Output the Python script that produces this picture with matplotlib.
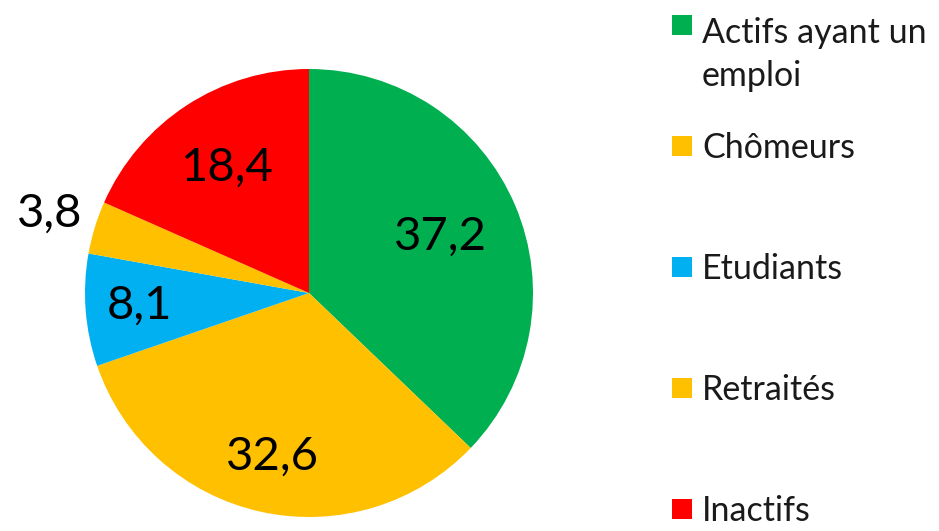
import matplotlib
matplotlib.use("Agg")
import matplotlib.pyplot as plt
import numpy as np
from matplotlib.patches import Rectangle

# slices, clockwise from 12 o'clock
slice_names = ["Actifs ayant un emploi", "Retraités", "Etudiants", "Chômeurs", "Inactifs"]
slice_values = [37.2, 32.6, 8.1, 3.8, 18.4]
slice_colors = ["#00B050", "#FFC000", "#00B0F0", "#FFC000", "#FF0000"]

legend_labels = ["Actifs ayant un\nemploi", "Chômeurs", "Etudiants", "Retraités", "Inactifs"]
legend_colors = ["#00B050", "#FFC000", "#00B0F0", "#FFC000", "#FF0000"]

W, H = 939, 531
plt.rcParams["font.family"] = ["Lato", "DejaVu Sans"]

fig = plt.figure(figsize=(W / 100, H / 100), dpi=100)
ax = fig.add_axes([0, 0, 1, 1])

cx, cy, r = 309, H - 293, 224
wedges, _ = ax.pie(slice_values, colors=slice_colors, startangle=90, counterclock=False,
                   center=(cx, cy), radius=r, wedgeprops=dict(linewidth=0))

# label distance (fraction of radius) per slice
label_frac = [0.64, 0.75, 0.76, 1.21, 0.67]
for w, v, f in zip(wedges, slice_values, label_frac):
    mid = np.deg2rad((w.theta1 + w.theta2) / 2)
    x = cx + f * r * np.cos(mid)
    y = cy + f * r * np.sin(mid)
    ax.text(x, y, f"{v:.1f}".replace(".", ","), ha="center", va="center",
            fontsize=34, color="black")

# legend drawn by hand
sq = 20
line_h = 49
for i, (lab, col) in enumerate(zip(legend_labels, legend_colors)):
    yc = H - (25 + i * 121)
    ax.add_patch(Rectangle((672, yc - sq / 2), sq, sq, color=col, lw=0))
    nlines = lab.count("\n") + 1
    ax.text(702, yc - 12 - (nlines - 1) * line_h, lab, ha="left", va="baseline",
            fontsize=24.5, color="#1a1a1a", linespacing=1.42)

ax.set_xlim(0, W)
ax.set_ylim(0, H)
ax.set_aspect("auto")
ax.axis("off")

fig.savefig("out.png", dpi=100)
